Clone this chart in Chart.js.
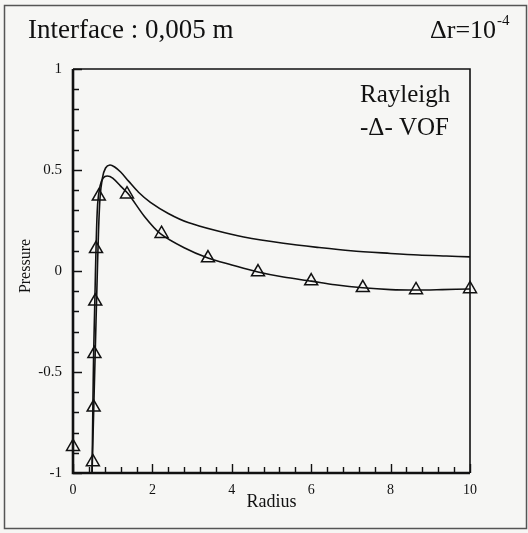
<!DOCTYPE html>
<html>
<head>
<meta charset="utf-8">
<script src="https://cdn.jsdelivr.net/npm/chart.js@4/dist/chart.umd.min.js"></script>
<style>
  html, body { margin: 0; padding: 0; background: #f6f6f4; }
  #wrap { width: 528px; height: 533px; position: relative; }
</style>
</head>
<body>
<div id="wrap"><canvas id="chart" width="528" height="533"></canvas></div>
<script>
// Rayleigh solution (solid line)
const rayleighR = [0.48, 0.52, 0.56, 0.6, 0.64, 0.68, 0.74, 0.82, 0.93, 1.05, 1.2, 1.4, 1.65, 1.95, 2.4, 2.9, 3.6, 4.3, 5.3, 6.2, 7.0, 8.0, 8.7, 9.4, 10];
const rayleighP = [-1.0, -0.7, -0.4, -0.1, 0.18, 0.36, 0.46, 0.51, 0.525, 0.515, 0.49, 0.445, 0.39, 0.34, 0.285, 0.24, 0.2, 0.168, 0.137, 0.116, 0.1, 0.087, 0.079, 0.074, 0.07];

// VOF solution (line through the triangles)
const vofR = [0.48, 0.5, 0.52, 0.55, 0.58, 0.62, 0.68, 0.76, 0.86, 1.0, 1.2, 1.4, 1.8, 2.2, 2.8, 3.4, 4.0, 4.66, 5.3, 6.0, 6.6, 7.3, 8.0, 8.64, 9.3, 10];
const vofP = [-1.0, -0.68, -0.41, -0.15, 0.11, 0.33, 0.42, 0.46, 0.47, 0.46, 0.42, 0.38, 0.27, 0.185, 0.115, 0.064, 0.03, -0.005, -0.03, -0.05, -0.068, -0.083, -0.092, -0.094, -0.092, -0.089];

// VOF sample points (triangles)
const vofMarkR = [0, 0.5, 0.52, 0.54, 0.56, 0.58, 0.65, 1.36, 2.23, 3.4, 4.66, 6.0, 7.3, 8.64, 10];
const vofMarkP = [-0.87, -0.945, -0.675, -0.41, -0.15, 0.11, 0.37, 0.38, 0.185, 0.064, -0.005, -0.05, -0.083, -0.094, -0.089];

const yTicks = [-1, -0.5, 0, 0.5, 1];
const xTicks = [0, 2, 4, 6, 8, 10];

const toPoints = (xs, ys) => xs.map((x, i) => ({ x: x, y: ys[i] }));

const SERIF = "'Liberation Serif', 'DejaVu Serif', serif";

const decor = {
  id: "decor",
  beforeDraw(chart) {
    const ctx = chart.ctx;
    ctx.save();
    ctx.fillStyle = "#f6f6f4";
    ctx.fillRect(0, 0, chart.width, chart.height);
    // outer frame
    ctx.strokeStyle = "#555";
    ctx.lineWidth = 1.5;
    ctx.strokeRect(4.5, 5.5, 522, 523);
    ctx.restore();
  },
  afterDraw(chart) {
    const ctx = chart.ctx;
    const a = chart.chartArea;
    const xs = chart.scales.x;
    const ys = chart.scales.y;
    ctx.save();
    ctx.strokeStyle = "#111";

    // plot frame: thick left/bottom, thinner top/right
    ctx.lineWidth = 1.6;
    ctx.beginPath();
    ctx.moveTo(a.left, a.top);
    ctx.lineTo(a.right, a.top);
    ctx.lineTo(a.right, a.bottom);
    ctx.stroke();
    ctx.lineWidth = 2.6;
    ctx.beginPath();
    ctx.moveTo(a.left, a.top);
    ctx.lineTo(a.left, a.bottom);
    ctx.lineTo(a.right, a.bottom);
    ctx.stroke();

    // inward ticks
    ctx.lineWidth = 1.4;
    ctx.beginPath();
    for (let i = 0; i <= 20; i++) {
      const v = -1 + i * 0.1;
      const py = Math.round(ys.getPixelForValue(v)) + 0.5;
      const len = i % 5 === 0 ? 9 : 6;
      ctx.moveTo(a.left, py);
      ctx.lineTo(a.left + len, py);
    }
    for (let i = 0; i <= 25; i++) {
      const v = i * 0.4;
      const px = Math.round(xs.getPixelForValue(v)) + 0.5;
      const len = i % 5 === 0 ? 9 : 6;
      ctx.moveTo(px, a.bottom);
      ctx.lineTo(px, a.bottom - len);
    }
    ctx.stroke();

    // header texts
    ctx.fillStyle = "#111";
    ctx.textBaseline = "alphabetic";
    ctx.textAlign = "left";
    ctx.font = "27px " + SERIF;
    ctx.fillText("Interface : 0,005 m", 28, 38);
    ctx.font = "26px " + SERIF;
    ctx.fillText("\u0394r=10", 430, 38);
    ctx.font = "15px " + SERIF;
    ctx.fillText("-4", 497, 25);

    // legend
    ctx.font = "25px " + SERIF;
    ctx.fillText("Rayleigh", 360, 102);
    ctx.fillText("-\u0394- VOF", 360, 135);

    // axis titles
    ctx.font = "18px " + SERIF;
    ctx.textAlign = "center";
    ctx.fillText("Radius", (a.left + a.right) / 2, 507);
    ctx.translate(30, 266);
    ctx.rotate(-Math.PI / 2);
    ctx.font = "16px " + SERIF;
    ctx.fillText("Pressure", 0, 0);
    ctx.restore();
  }
};

new Chart(document.getElementById("chart"), {
  type: "scatter",
  plugins: [decor],
  data: {
    datasets: [
      {
        label: "Rayleigh",
        data: toPoints(rayleighR, rayleighP),
        showLine: true,
        borderColor: "#111",
        borderWidth: 1.6,
        pointRadius: 0,
        tension: 0.3,
      },
      {
        label: "VOF",
        data: toPoints(vofR, vofP),
        showLine: true,
        borderColor: "#111",
        borderWidth: 1.6,
        pointRadius: 0,
        tension: 0.3,
      },
      {
        label: "VOF points",
        data: toPoints(vofMarkR, vofMarkP),
        showLine: false,
        pointStyle: "triangle",
        pointRadius: 7.5,
        borderColor: "#111",
        borderWidth: 1.5,
        backgroundColor: "rgba(0,0,0,0)",
      },
    ],
  },
  options: {
    responsive: false,
    animation: false,
    clip: false,
    layout: { padding: { left: 0, top: 69, right: 58, bottom: 0 } },
    plugins: {
      legend: { display: false },
      title: { display: false },
      tooltip: { enabled: false },
    },
    scales: {
      x: {
        type: "linear",
        min: 0,
        max: 10,
        afterFit: (s) => { s.height = 60; },
        afterBuildTicks: (s) => { s.ticks = xTicks.map((v) => ({ value: v })); },
        grid: { display: false, drawTicks: false },
        border: { display: false },
        ticks: {
          padding: 9,
          color: "#111",
          font: { family: SERIF, size: 14 },
          callback: (v) => String(v),
        },
      },
      y: {
        type: "linear",
        min: -1,
        max: 1,
        afterFit: (s) => { s.width = 73; },
        afterBuildTicks: (s) => { s.ticks = yTicks.map((v) => ({ value: v })); },
        grid: { display: false, drawTicks: false },
        border: { display: false },
        ticks: {
          padding: 11,
          color: "#111",
          font: { family: SERIF, size: 15 },
          callback: (v) => String(v),
        },
      },
    },
  },
});
</script>
</body>
</html>
